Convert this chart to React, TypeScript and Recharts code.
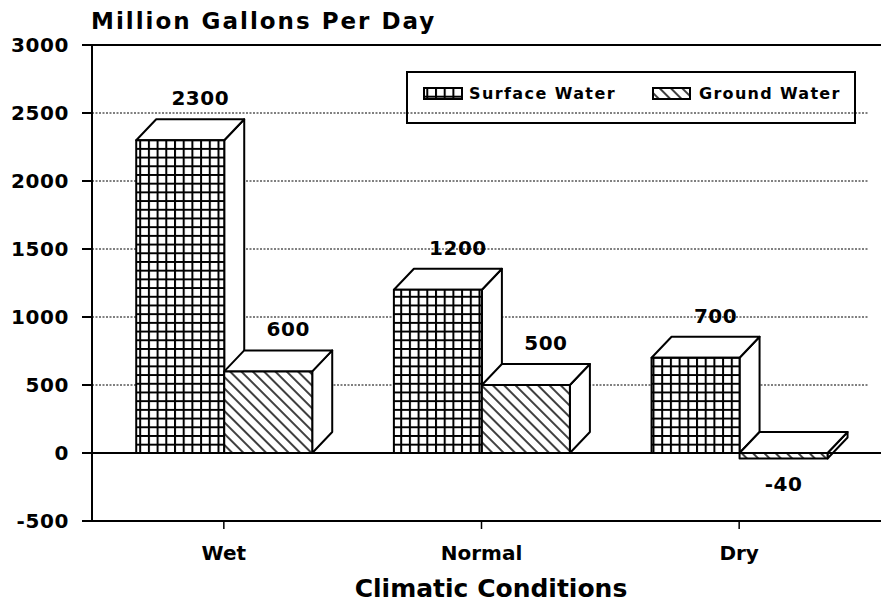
import React from "react";
import {
  BarChart,
  Bar,
  XAxis,
  YAxis,
  CartesianGrid,
  ReferenceLine,
  LabelList,
} from "recharts";

const conditions = ["Wet", "Normal", "Dry"];
const surfaceWater = [2300, 1200, 700];
const groundWater = [600, 500, -40];
const yTicks = [-500, 0, 500, 1000, 1500, 2000, 2500, 3000];
const seriesNames = ["Surface Water", "Ground Water"];

const data = conditions.map((name, i) => ({
  name,
  surface: surfaceWater[i],
  ground: groundWater[i],
}));

const FONT = "'DejaVu Sans', Arial, sans-serif";
const DX = 20;
const DY = 21;

// 3D box: front face with pattern, white top and side faces
const Box = (props: any) => {
  const { x, y, width, height, fill } = props;
  if (x == null || y == null) return null;
  const top = Math.min(y, y + height);
  const bottom = Math.max(y, y + height);
  const r = x + width;
  return (
    <g stroke="#000" strokeWidth={2} strokeLinejoin="round">
      <polygon
        points={`${r},${top} ${r + DX},${top - DY} ${r + DX},${bottom - DY} ${r},${bottom}`}
        fill="#fff"
      />
      <polygon
        points={`${x},${top} ${x + DX},${top - DY} ${r + DX},${top - DY} ${r},${top}`}
        fill="#fff"
      />
      <rect x={x} y={top} width={width} height={bottom - top} fill={fill} />
    </g>
  );
};

const ValueLabel = (props: any) => {
  const { x, y, width, height, value } = props;
  const neg = value < 0;
  const top = Math.min(y, y + height);
  const bottom = Math.max(y, y + height);
  return (
    <text
      x={neg ? x + width / 2 : x + width / 2 + DX}
      y={neg ? bottom + 33 : top - DY - 14}
      textAnchor="middle"
      fontFamily={FONT}
      fontWeight="bold"
      fontSize={20}
      letterSpacing={0.5}
      fill="#000"
    >
      {value}
    </text>
  );
};

const fullLine = (props: any) => (
  <line
    x1={props.x1 - 10}
    y1={props.y1}
    x2={881}
    y2={props.y2}
    stroke="#000"
    strokeWidth={2}
  />
);

const Patterns = ({ suffix }: { suffix: string }) => (
  <defs>
    <pattern id={`grid${suffix}`} patternUnits="userSpaceOnUse" width={8.7} height={8.7}>
      <rect width={8.7} height={8.7} fill="#fff" />
      <path d="M0,1 H8.7 M1,0 V8.7" stroke="#000" strokeWidth={2} />
    </pattern>
    <pattern
      id={`hatch${suffix}`}
      patternUnits="userSpaceOnUse"
      width={8}
      height={8}
      patternTransform="rotate(-45)"
    >
      <rect width={8} height={8} fill="#fff" />
      <line x1={4} y1={0} x2={4} y2={8} stroke="#000" strokeWidth={1.5} />
    </pattern>
  </defs>
);

const txt = { fontFamily: FONT, fontWeight: "bold" as const, fill: "#000" };

export default function App() {
  return (
    <div style={{ position: "absolute", left: 0, top: 0, width: 881, height: 602, background: "#fff" }}>
      <BarChart
        width={881}
        height={602}
        data={data}
        margin={{ top: 45, right: 13, bottom: 41, left: 12 }}
        barCategoryGap="16%"
        barGap={0}
      >
        <Patterns suffix="" />
        <CartesianGrid vertical={false} stroke="#000" strokeDasharray="2 1.5" strokeWidth={1} />
        <XAxis
          dataKey="name"
          height={40}
          padding={{ left: 3, right: 0 }}
          tickSize={8}
          tickMargin={17}
          axisLine={{ stroke: "#000", strokeWidth: 2 }}
          tickLine={{ stroke: "#000", strokeWidth: 1.5 }}
          tick={{ ...txt, fontSize: 20 }}
        />
        <YAxis
          width={80}
          domain={[-500, 3000]}
          ticks={yTicks}
          interval={0}
          tickSize={10}
          tickMargin={13}
          axisLine={{ stroke: "#000", strokeWidth: 2 }}
          tickLine={{ stroke: "#000", strokeWidth: 2 }}
          tick={{ ...txt, fontSize: 20, letterSpacing: 0.6 }}
        />
        <ReferenceLine y={0} shape={fullLine} />
        <ReferenceLine y={3000} shape={fullLine} />
        <ReferenceLine y={-500} shape={fullLine} />
        <Bar dataKey="surface" name={seriesNames[0]} fill="url(#grid)" shape={<Box />} isAnimationActive={false}>
          <LabelList dataKey="surface" content={<ValueLabel />} />
        </Bar>
        <Bar dataKey="ground" name={seriesNames[1]} fill="url(#hatch)" shape={<Box />} isAnimationActive={false}>
          <LabelList dataKey="ground" content={<ValueLabel />} />
        </Bar>
      </BarChart>
      <svg
        width={881}
        height={602}
        style={{ position: "absolute", left: 0, top: 0, pointerEvents: "none" }}
      >
        <Patterns suffix="L" />
        <text x={91} y={29} {...txt} fontSize={23} letterSpacing={2}>
          Million Gallons Per Day
        </text>
        <text x={491} y={597} textAnchor="middle" {...txt} fontSize={25}>
          Climatic Conditions
        </text>
        <rect x={407} y={72} width={448} height={51} fill="none" stroke="#000" strokeWidth={2} />
        <rect x={424} y={88} width={38} height={11} fill="url(#gridL)" stroke="#000" strokeWidth={2} />
        <text x={469} y={99} {...txt} fontSize={16} letterSpacing={1.4}>
          {seriesNames[0]}
        </text>
        <rect x={653} y={88} width={37} height={11} fill="url(#hatchL)" stroke="#000" strokeWidth={2} />
        <text x={699} y={99} {...txt} fontSize={16} letterSpacing={1.3}>
          {seriesNames[1]}
        </text>
      </svg>
    </div>
  );
}
